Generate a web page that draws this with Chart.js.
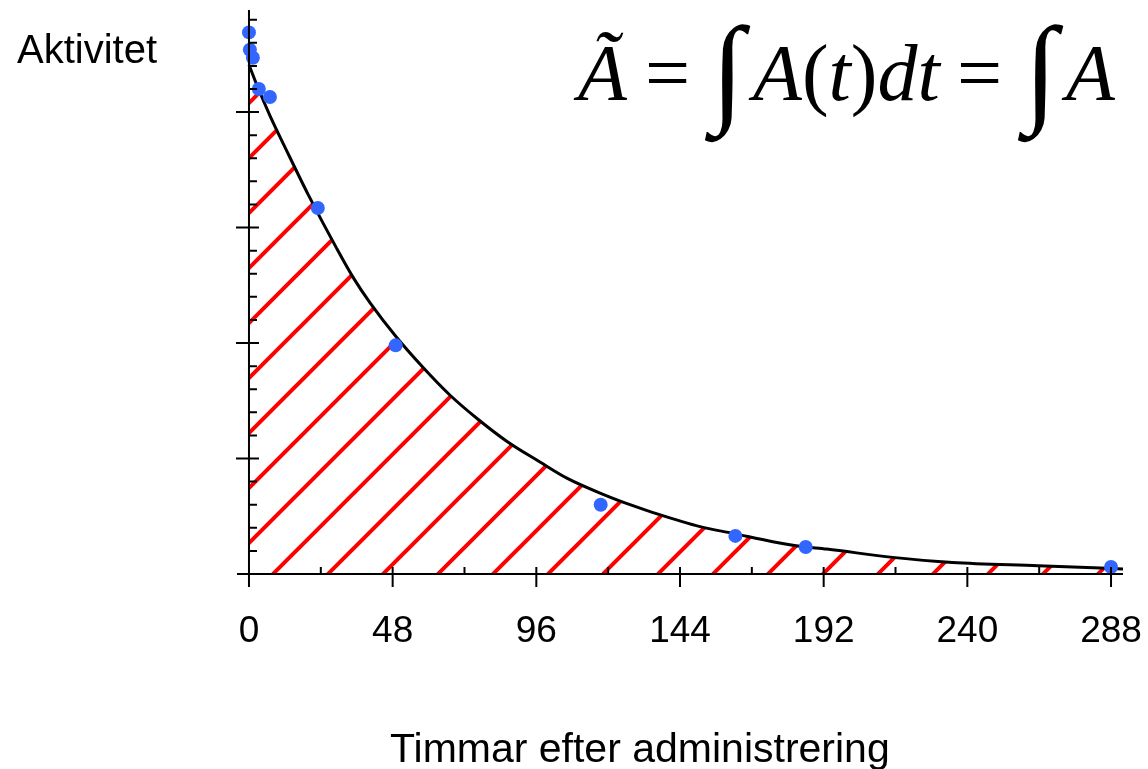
<!DOCTYPE html>
<html>
<head>
<meta charset="utf-8">
<script src="https://cdn.jsdelivr.net/npm/chart.js@4.4.1/dist/chart.umd.min.js"></script>
<style>
  html, body { margin: 0; padding: 0; background: #fff; }
  #wrap { position: relative; width: 1148px; height: 769px; overflow: hidden; }
  #wrap canvas { position: absolute; left: 0; top: 0; }
  .lbl { position: absolute; font-family: "Liberation Sans", Arial, sans-serif; color: #000; line-height: 1; white-space: nowrap; }
  .eq { position: absolute; font-family: "Liberation Serif", "Times New Roman", serif; font-size: 80px; line-height: 1; color: #000; white-space: nowrap; }
  .eq i { font-style: italic; }
  .int { font-size: 120px; }
</style>
</head>
<body>
<div id="wrap">
  <canvas id="c" width="1148" height="769"></canvas>
  <div class="lbl" style="left:17px;top:29px;font-size:40px">Aktivitet</div>
  <div class="lbl" style="left:390px;top:728px;font-size:41px">Timmar efter administrering</div>
  <div class="eq" style="left:578px;top:33px"><i>Ã</i></div>
  <div class="eq" style="left:645px;top:33px">=</div>
  <div class="eq int" style="left:711px;top:10px">∫</div>
  <div class="eq" style="left:753px;top:33px"><i>A</i>(<i>t</i>)<i>dt</i></div>
  <div class="eq" style="left:957px;top:33px">=</div>
  <div class="eq int" style="left:1024px;top:10px">∫</div>
  <div class="eq" style="left:1066px;top:33px"><i>A</i></div>
</div>
<script>
  // measured points (hours, activity in minor-tick units)
  var pointHours = [0, 0.3, 1.3, 3.3, 7, 23, 49, 117.5, 162.5, 186, 288];
  var pointValues = [23.45, 22.7, 22.35, 21.0, 20.65, 15.85, 9.9, 3.0, 1.65, 1.17, 0.3];

  // fitted curve
  var curveHours = [0, 2.7, 7, 12.7, 19.7, 29.3, 35, 40.4, 49.3, 58.1, 67.1, 76.5, 86.1, 97.2,
    106.2, 118.3, 127.3, 135, 150.7, 161.7, 175, 184, 193, 215, 235, 263.6, 292];
  var curveValues = [22.05, 21.15, 19.85, 18.3, 16.45, 14.1, 12.8, 11.75, 10.25, 8.95, 7.75, 6.7, 5.75, 4.85,
    4.15, 3.45, 3.0, 2.66, 2.05, 1.76, 1.4, 1.2, 1.08, 0.72, 0.5, 0.36, 0.22];

  var xTicks = [0, 48, 96, 144, 192, 240, 288];

  function zip(xs, ys) {
    return xs.map(function (x, i) { return { x: x, y: ys[i] }; });
  }

  // red diagonal hatch
  function makeHatch(ctx) {
    var s = 55;
    var tile = document.createElement("canvas");
    tile.width = s;
    tile.height = s;
    var t = tile.getContext("2d");
    t.strokeStyle = "#ff0000";
    t.lineWidth = 4;
    t.beginPath();
    t.moveTo(0, s); t.lineTo(s, 0);
    t.moveTo(-5, 5); t.lineTo(5, -5);
    t.moveTo(s - 5, s + 5); t.lineTo(s + 5, s - 5);
    t.stroke();
    var p = ctx.createPattern(tile, "repeat");
    p.setTransform(new DOMMatrix([1, 0, 0, 1, 22, 0]));
    return p;
  }

  // axes crossing at the origin, ticks on both sides
  var axesPlugin = {
    id: "crossAxes",
    afterDatasetsDraw: function (chart) {
      var ctx = chart.ctx;
      var xs = chart.scales.x, ys = chart.scales.y;
      var x0 = xs.getPixelForValue(0), y0 = ys.getPixelForValue(0);
      ctx.save();
      ctx.strokeStyle = "#000";
      ctx.lineWidth = 2;
      ctx.beginPath();
      ctx.moveTo(chart.chartArea.left, y0); ctx.lineTo(chart.chartArea.right, y0);
      ctx.moveTo(x0, chart.chartArea.top); ctx.lineTo(x0, y0 + 13);
      for (var v = 1; v <= 24; v++) {
        var py = ys.getPixelForValue(v);
        if (v % 5 === 0) { ctx.moveTo(x0 - 13, py); ctx.lineTo(x0 + 10, py); }
        else { ctx.moveTo(x0, py); ctx.lineTo(x0 + 8, py); }
      }
      for (var h = 24; h <= 288; h += 24) {
        var px = xs.getPixelForValue(h);
        if (h % 48 === 0) { ctx.moveTo(px, y0 - 7); ctx.lineTo(px, y0 + 13); }
        else { ctx.moveTo(px, y0 - 7); ctx.lineTo(px, y0); }
      }
      ctx.stroke();
      ctx.restore();
    }
  };

  var ctx = document.getElementById("c").getContext("2d");

  new Chart(ctx, {
    type: "line",
    data: {
      datasets: [
        {
          label: "Mätpunkter",
          data: zip(pointHours, pointValues),
          showLine: false,
          pointRadius: 7,
          pointBorderWidth: 0,
          pointBackgroundColor: "#3366ff",
          borderColor: "#3366ff",
          fill: false
        },
        {
          label: "A(t)",
          data: zip(curveHours, curveValues),
          borderColor: "#000",
          borderWidth: 3,
          pointRadius: 0,
          cubicInterpolationMode: "monotone",
          fill: "origin",
          backgroundColor: makeHatch(ctx)
        }
      ]
    },
    plugins: [axesPlugin],
    options: {
      responsive: false,
      animation: false,
      layout: { padding: { left: 237, right: 25, top: 10, bottom: 0 } },
      plugins: { legend: { display: false }, tooltip: { enabled: false } },
      scales: {
        x: {
          type: "linear",
          min: -4,
          max: 292,
          grid: { display: false, drawTicks: false },
          border: { display: false },
          afterBuildTicks: function (s) {
            s.ticks = xTicks.map(function (v) { return { value: v }; });
          },
          afterFit: function (s) {
            s.height = 195;
            s.paddingLeft = 0;
            s.paddingRight = 0;
          },
          ticks: {
            color: "#000",
            padding: 36,
            maxRotation: 0,
            autoSkip: false,
            font: { family: "'Liberation Sans', Arial, sans-serif", size: 37 },
            callback: function (v) { return String(v); }
          }
        },
        y: {
          type: "linear",
          min: 0,
          max: 24.42,
          display: false
        }
      }
    }
  });
</script>
</body>
</html>
